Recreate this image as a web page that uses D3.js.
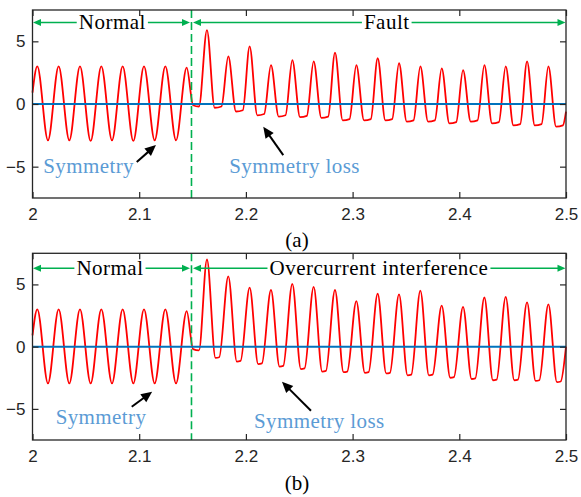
<!DOCTYPE html>
<html><head><meta charset="utf-8">
<script src="https://cdn.jsdelivr.net/npm/d3@7/dist/d3.min.js"></script>
<style>body{margin:0;background:#fff;} svg{display:block;}</style>
</head><body>
<svg id="c" width="581" height="497"></svg>
<script>
// ---------- data ----------
const xTicks = [2, 2.1, 2.2, 2.3, 2.4, 2.5];
const yTicks = [-5, 0, 5];
const xDomain = [2, 2.5];
const yDomain = [-7.5, 7.5];
const faultTime = 2.149;
const panelLabels = ["(a)", "(b)"];
const stageLabelsA = ["Normal", "Fault"];
const stageLabelsB = ["Normal", "Overcurrent interference"];
const noteLabels = ["Symmetry", "Symmetry loss"];
const baseline = [[2.0, 0], [2.5, 0]];

// key points of the measured current, [time s, value]
const signalA = [
 [2.0000,0.9],[2.0045,3.0],[2.0145,-2.9],[2.0245,3.0],[2.0345,-2.9],[2.0445,3.0],[2.0545,-2.95],
 [2.0645,3.0],[2.0745,-2.9],[2.0845,3.0],[2.0945,-2.95],[2.1045,3.0],[2.1145,-2.9],[2.1245,3.0],
 [2.1345,-2.9],[2.1445,2.9],[2.1505,-0.1],[2.1560,-0.2],
 [2.1635,5.9],[2.1707,-0.3],[2.1771,-0.2],
 [2.1835,3.8],[2.1907,-0.6],[2.1971,-0.5],
 [2.2035,4.6],[2.2107,-0.9],[2.2171,-0.8],
 [2.2235,3.1],[2.2307,-1.0],[2.2371,-0.9],
 [2.2435,3.5],[2.2507,-1.05],[2.2571,-0.95],
 [2.2635,3.4],[2.2707,-1.1],[2.2771,-1.0],
 [2.2835,4.1],[2.2907,-1.3],[2.2971,-1.2],
 [2.3035,3.1],[2.3107,-1.3],[2.3171,-1.2],
 [2.3235,3.65],[2.3307,-1.3],[2.3371,-1.2],
 [2.3435,3.25],[2.3507,-1.4],[2.3571,-1.3],
 [2.3635,3.0],[2.3707,-1.4],[2.3771,-1.3],
 [2.3835,2.85],[2.3907,-1.55],[2.3971,-1.45],
 [2.4035,2.7],[2.4107,-1.4],[2.4171,-1.3],
 [2.4235,3.1],[2.4307,-1.55],[2.4371,-1.45],
 [2.4435,3.0],[2.4507,-1.7],[2.4571,-1.6],
 [2.4635,3.4],[2.4707,-1.7],[2.4771,-1.6],
 [2.4835,3.0],[2.4907,-1.8],[2.4971,-1.7],
 [2.5000,-0.6]
];
const signalB = [
 [2.0000,0.9],[2.0045,3.0],[2.0145,-2.95],[2.0245,3.0],[2.0345,-2.95],[2.0445,3.0],[2.0545,-2.95],
 [2.0645,3.0],[2.0745,-2.95],[2.0845,3.0],[2.0945,-2.95],[2.1045,3.0],[2.1145,-2.95],[2.1245,3.0],
 [2.1345,-2.95],[2.1445,2.85],[2.1505,-0.2],[2.1560,-0.3],
 [2.1635,7.0],[2.1715,-0.9],[2.1750,-0.85],
 [2.1835,5.65],[2.1915,-1.2],[2.1950,-1.15],
 [2.2035,4.75],[2.2115,-1.4],[2.2150,-1.35],
 [2.2235,4.55],[2.2315,-1.6],[2.2350,-1.55],
 [2.2435,5.05],[2.2515,-1.8],[2.2550,-1.75],
 [2.2635,4.8],[2.2715,-2.0],[2.2750,-1.95],
 [2.2835,4.55],[2.2915,-2.05],[2.2950,-2.0],
 [2.3035,3.65],[2.3115,-2.1],[2.3150,-2.05],
 [2.3235,4.25],[2.3315,-2.15],[2.3350,-2.1],
 [2.3435,4.2],[2.3515,-2.3],[2.3550,-2.25],
 [2.3635,4.5],[2.3715,-2.3],[2.3750,-2.25],
 [2.3835,3.3],[2.3915,-2.5],[2.3950,-2.45],
 [2.4035,3.2],[2.4115,-2.6],[2.4150,-2.55],
 [2.4235,3.95],[2.4315,-2.7],[2.4350,-2.65],
 [2.4435,4.0],[2.4515,-2.7],[2.4550,-2.65],
 [2.4635,3.55],[2.4715,-2.75],[2.4750,-2.7],
 [2.4835,3.4],[2.4915,-2.85],[2.4950,-2.8],
 [2.5000,0.0]
];

// ---------- layout ----------
const svg = d3.select("#c");
const L = 32.5, R = 566;
const x = d3.scaleLinear().domain(xDomain).range([L, R]);
const SERIF = "'Liberation Serif','Times New Roman',serif";
const SANS = "'Liberation Sans',Arial,sans-serif";
const GREEN = "#00b050", AX = "#262626";

const panels = [
  {top:10, bottom:198, signal:signalA, stages:stageLabelsA, centers:[2.0748, 2.332],
   arrowOff:12.5, label:panelLabels[0], labelY:247,
   notes:[{t:2.0101, v:-5.52, tail:[2.0977,-4.62], head:[2.1157,-3.28]},
          {t:2.1844, v:-5.52, tail:[2.2350,-4.08], head:[2.2163,-1.82]}]},
  {top:253.3, bottom:440, signal:signalB, stages:stageLabelsB, centers:[2.0726, 2.3247],
   arrowOff:15, label:panelLabels[1], labelY:490,
   notes:[{t:2.0217, v:-6.24, tail:[2.093,-4.83], head:[2.1121,-3.62]},
          {t:2.2076, v:-6.5, tail:[2.261,-5.15], head:[2.2338,-2.82]}]}
];

function arrowHead(g, tip, from, color, len, wid) {
  const dx = tip[0]-from[0], dy = tip[1]-from[1];
  const d = Math.hypot(dx, dy), ux = dx/d, uy = dy/d;
  const bx = tip[0]-ux*len, by = tip[1]-uy*len;
  const px = -uy*wid/2, py = ux*wid/2;
  g.append("path").attr("d", `M${tip[0]},${tip[1]}L${bx+px},${by+py}L${bx-px},${by-py}Z`)
    .attr("fill", color);
}

panels.forEach(p => {
  const y = d3.scaleLinear().domain(yDomain).range([p.bottom, p.top]);
  const g = svg.append("g");

  // red signal
  const line = d3.line().x(d => x(d[0])).y(d => y(d[1])).curve(d3.curveMonotoneX);
  g.append("path").datum(p.signal).attr("d", line)
    .attr("fill", "none").attr("stroke", "#ff0000").attr("stroke-width", 1.8)
    .attr("stroke-linejoin", "round");

  // blue zero line
  g.append("path").datum(baseline).attr("d", d3.line().x(d => x(d[0])).y(d => y(d[1])))
    .attr("stroke", "#0072bd").attr("stroke-width", 2).attr("fill", "none");

  // dashed fault line
  g.append("line").attr("x1", x(faultTime)).attr("x2", x(faultTime))
    .attr("y1", p.top).attr("y2", p.bottom)
    .attr("stroke", GREEN).attr("stroke-width", 1.6).attr("stroke-dasharray", "8,4");

  // axes
  const axB = d3.axisBottom(x).tickValues(xTicks).tickSizeInner(-6).tickSizeOuter(0).tickPadding(10)
    .tickFormat(d3.format("~g"));
  const axT = d3.axisTop(x).tickValues(xTicks).tickSizeInner(-6).tickSizeOuter(0).tickFormat("");
  const axL = d3.axisLeft(y).tickValues(yTicks).tickSizeInner(-6).tickSizeOuter(0).tickPadding(7)
    .tickFormat(d3.format("~g"));
  const axR = d3.axisRight(y).tickValues(yTicks).tickSizeInner(-6).tickSizeOuter(0).tickFormat("");
  const gb = g.append("g").attr("transform", `translate(0,${p.bottom})`).call(axB);
  const gt = g.append("g").attr("transform", `translate(0,${p.top})`).call(axT);
  const gl = g.append("g").attr("transform", `translate(${L},0)`).call(axL);
  const gr = g.append("g").attr("transform", `translate(${R},0)`).call(axR);
  [gb, gt, gl, gr].forEach(a => {
    a.selectAll("path.domain").remove();
    a.selectAll("line").attr("stroke", AX).attr("stroke-width", 1.2);
    a.selectAll("text").attr("font-family", SANS).attr("font-size", 17).attr("fill", AX);
  });
  gb.selectAll("text").attr("dy", "0.71em");
  g.append("rect").attr("x", L).attr("y", p.top).attr("width", R-L).attr("height", p.bottom-p.top)
    .attr("fill", "none").attr("stroke", AX).attr("stroke-width", 1.3);

  // stage arrows
  const ay = p.top + p.arrowOff;
  const segs = [[x(xDomain[0]) + 0.5, x(faultTime) - 1.5], [x(faultTime) + 1.5, x(xDomain[1]) - 0.5]];
  segs.forEach((s, i) => {
    const t = g.append("text").attr("x", x(p.centers[i])).attr("y", ay + 6.5)
      .attr("text-anchor", "middle").attr("font-family", SERIF).attr("font-size", 21)
      .attr("letter-spacing", 0.5).attr("fill", "#000").text(p.stages[i]);
    const bb = t.node().getBBox();
    const a0 = bb.x - 2, a1 = bb.x + bb.width + 2;
    g.append("line").attr("x1", s[0] + 4).attr("x2", a0).attr("y1", ay).attr("y2", ay)
      .attr("stroke", GREEN).attr("stroke-width", 1.5);
    g.append("line").attr("x1", a1).attr("x2", s[1] - 4).attr("y1", ay).attr("y2", ay)
      .attr("stroke", GREEN).attr("stroke-width", 1.5);
    arrowHead(g, [s[0], ay], [s[0] + 10, ay], GREEN, 8, 7);
    arrowHead(g, [s[1], ay], [s[1] - 10, ay], GREEN, 8, 7);
  });

  // notes
  p.notes.forEach((n, i) => {
    g.append("text").attr("x", x(n.t)).attr("y", y(n.v)).attr("font-family", SERIF)
      .attr("font-size", 21).attr("letter-spacing", 0.4).attr("fill", "#5b9bd5").text(noteLabels[i]);
    const tail = [x(n.tail[0]), y(n.tail[1])], head = [x(n.head[0]), y(n.head[1])];
    const dx = head[0]-tail[0], dy = head[1]-tail[1], d = Math.hypot(dx, dy);
    g.append("line").attr("x1", tail[0]).attr("y1", tail[1])
      .attr("x2", head[0] - dx/d*8).attr("y2", head[1] - dy/d*8)
      .attr("stroke", "#000").attr("stroke-width", 2);
    arrowHead(g, head, tail, "#000", 11, 10);
  });

  // panel label
  svg.append("text").attr("x", 297).attr("y", p.labelY).attr("text-anchor", "middle")
    .attr("font-family", SERIF).attr("font-size", 21).attr("fill", "#000").text(p.label);
});
</script>
</body></html>
